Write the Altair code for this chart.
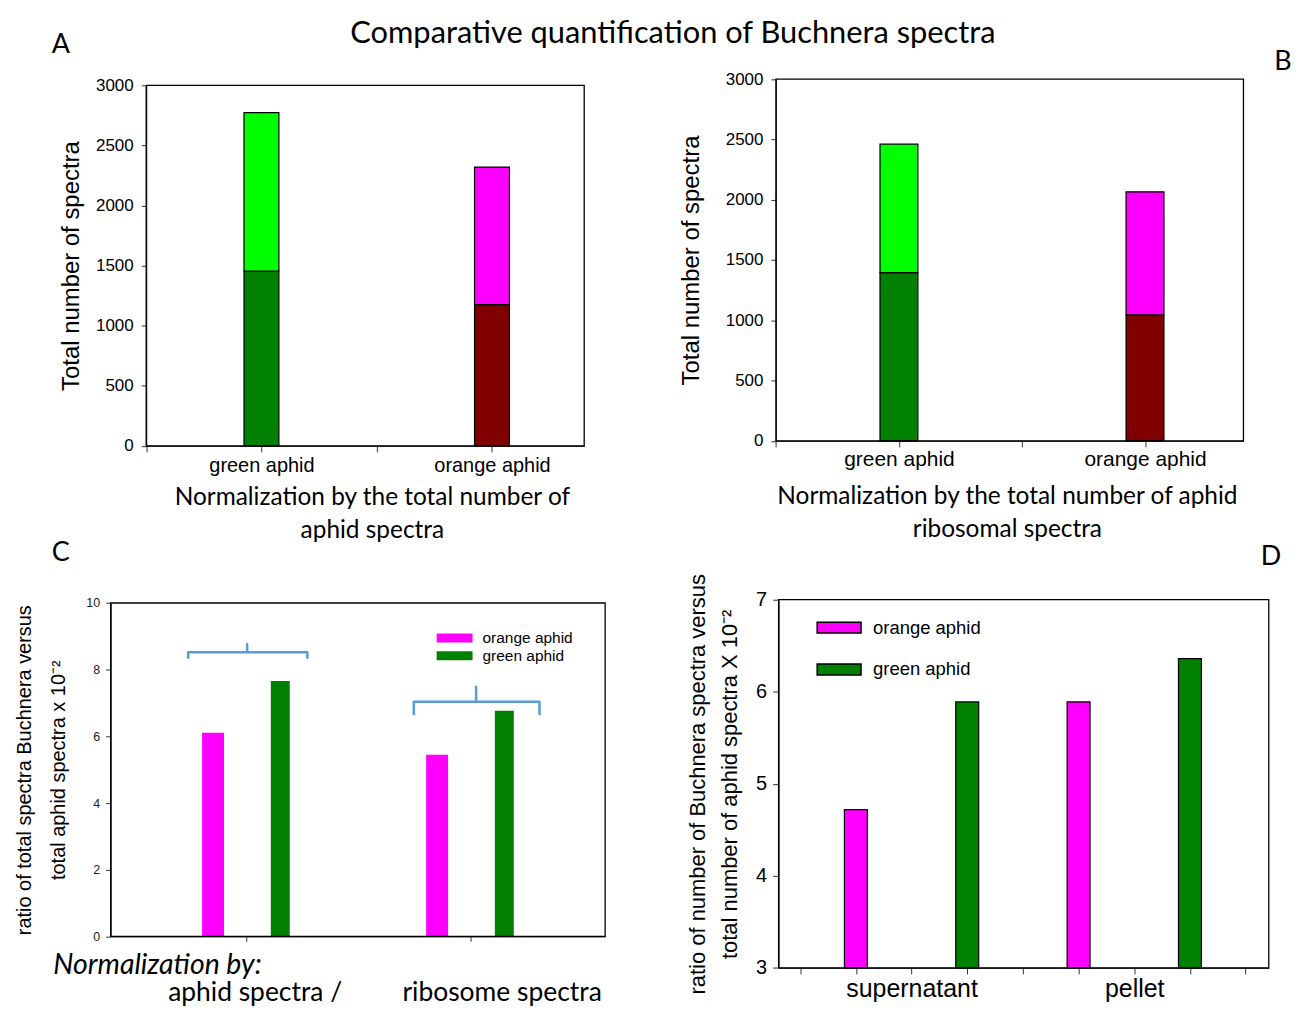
import altair as alt
import pandas as pd

# ---------------- data ----------------
TITLE = "Comparative quantification of Buchnera spectra"

AB_CATEGORIES = ["green aphid", "orange aphid"]
A_LOWER = [1455, 1175]
A_TOTAL = [2772, 2320]
B_LOWER = [1395, 1045]
B_TOTAL = [2460, 2065]
AB_YTICKS = [0, 500, 1000, 1500, 2000, 2500, 3000]

SERIES = ["orange aphid", "green aphid"]
C_GROUPS = ["aphid spectra /", "ribosome spectra"]
C_ORANGE = [6.11, 5.45]
C_GREEN = [7.66, 6.77]
C_YTICKS = [0, 2, 4, 6, 8, 10]

D_GROUPS = ["supernatant", "pellet"]
D_ORANGE = [4.72, 5.89]
D_GREEN = [5.89, 6.36]
D_YTICKS = [3, 4, 5, 6, 7]

# ---------------- layout / style ----------------
M = 8
W, H = 1287, 1000
ARIAL = "Liberation Sans, Arial, Helvetica, sans-serif"
CALIBRI = "Lato, Open Sans, sans-serif"
AXC = "#333333"

GREEN_DARK, GREEN_LIGHT, MAROON, MAGENTA = "#008000", "#00FF00", "#800000", "#FF00FF"
STACK_KEYS = [f"{c} {p}" for c in AB_CATEGORIES for p in ("lower", "upper")]
STACK_COLORS = [GREEN_DARK, GREEN_LIGHT, MAROON, MAGENTA]
SERIES_COLORS = [MAGENTA, GREEN_DARK]
BRACKET_COLOR = "#5B9BD5"
RECT_SYMBOL = "M-1,-0.25H1V0.25H-1Z"
WIDE_SYMBOL = "M-2,-0.5H2V0.5H-2Z"


def P(v):
    return v - M


def lin(domain, r0, r1):
    return alt.Scale(domain=domain, range=[P(r0), P(r1)], nice=False, zero=False, padding=0)


def frame_layer(x_dom, y_dom, xs, ys):
    df = pd.DataFrame([{"fx0": x_dom[0], "fx1": x_dom[1], "fy0": y_dom[0], "fy1": y_dom[1]}])
    return alt.Chart(df).mark_rect(fillOpacity=0, stroke="black", strokeWidth=1.3).encode(
        x=alt.X("fx0:Q", scale=xs, axis=None),
        x2="fx1:Q",
        y=alt.Y("fy0:Q", scale=ys, axis=None),
        y2="fy1:Q",
    )


def stacked_panel(lower, total, box, bar_px, label_size, label_pad, ytitle_right, xtitle, xtitle_x, xtitle_y):
    left, right, top, bottom = box
    x_dom = [0, 1.9]
    y_dom = [AB_YTICKS[0], AB_YTICKS[-1]]
    xs = lin(x_dom, left, right)
    ys = lin(y_dom, bottom, top)
    rows = []
    for i, cat in enumerate(AB_CATEGORIES):
        rows.append({"slot": i + 0.5, "key": f"{cat} lower", "lo": 0, "hi": lower[i]})
        rows.append({"slot": i + 0.5, "key": f"{cat} upper", "lo": lower[i], "hi": total[i]})
    label_expr = " : ".join(f"datum.value == {i + 0.5} ? '{c}'" for i, c in enumerate(AB_CATEGORIES)) + " : ''"
    bars = alt.Chart(pd.DataFrame(rows)).mark_bar(size=bar_px, stroke="black", strokeWidth=1.2).encode(
        x=alt.X("slot:Q", scale=xs, axis=alt.Axis(
            orient="bottom", offset=P(bottom) - H, values=[0, 0.5, 1, 1.5], labelExpr=label_expr,
            tickSize=6, tickColor=AXC, domainColor=AXC, domainWidth=1.2, grid=False,
            labelFont=ARIAL, labelFontSize=label_size, labelColor="black", labelPadding=label_pad,
            title=xtitle, titleFont=CALIBRI, titleFontSize=24.5, titleFontWeight="normal",
            titleColor="black", titleX=P(xtitle_x), titleY=xtitle_y, titleBaseline="top",
            titleLineHeight=33.5)),
        y=alt.Y("hi:Q", scale=ys, axis=alt.Axis(
            orient="left", offset=-P(left), values=AB_YTICKS, format="d",
            tickSize=5, tickColor=AXC, domainColor=AXC, domainWidth=1.2, grid=False,
            labelFont=ARIAL, labelFontSize=17, labelColor="black", labelPadding=8,
            title="Total number of spectra", titleFont=ARIAL, titleFontSize=24,
            titleFontWeight="normal", titleColor="black", titleX=ytitle_right - left)),
        y2="lo:Q",
        color=alt.Color("key:N", scale=alt.Scale(domain=STACK_KEYS, range=STACK_COLORS), legend=None),
    )
    return [bars, frame_layer(x_dom, y_dom, xs, ys)]


# ---------- Panel A / B ----------
layers_a = stacked_panel(A_LOWER, A_TOTAL, (146.6, 586, 84, 445.7), 35, 20, 4, 84,
                         ["Normalization by the total  number of", "aphid spectra"], 373, 39.5)
layers_b = stacked_panel(B_LOWER, B_TOTAL, (778.3, 1247.3, 77.7, 440.7), 38, 21, 2, 706,
                         ["Normalization by the total number  of aphid", "ribosomal spectra"], 1010, 43.5)

# ---------- Panel C ----------
C_BOX = (111, 607, 603.3, 937.7)
C_XDOM = [-0.607, 1.6]
C_YDOM = [C_YTICKS[0], C_YTICKS[-1]]
C_OFFSETS = [-0.15, 0.15]
C_WIDTHS = [22, 19]
c_label_expr = " : ".join(f"datum.value == {i} ? '{c}'" for i, c in enumerate(C_GROUPS)) + " : ''"
layers_c = []
for s, (ser, vals) in enumerate(zip(SERIES, [C_ORANGE, C_GREEN])):
    rows = [{"pos": g + C_OFFSETS[s], "series": ser, "value": vals[g], "base": C_YDOM[0]}
            for g in range(len(C_GROUPS))]
    first = s == 0
    xaxis = alt.Axis(
        orient="bottom", offset=P(C_BOX[3]) - H, values=[0, 1], labelExpr=c_label_expr,
        tickSize=5, tickColor=AXC, domainColor=AXC, domainWidth=1.2, grid=False,
        labelFont=CALIBRI, labelFontSize=26.5, labelColor="black", labelPadding=38.5, labelLimit=0,
        labelOffset={"condition": {"test": "datum.value == 1", "value": 31}, "value": 8},
        title="Normalization by:", titleFont=CALIBRI, titleFontSize=28.5, titleFontStyle="italic",
        titleFontWeight="normal", titleColor="black", titleAlign="left", titleX=P(53),
        titleY=14, titleBaseline="top") if first else None
    yaxis = alt.Axis(
        orient="left", offset=-P(C_BOX[0]), values=C_YTICKS, format="d",
        tickSize=5, tickColor=AXC, domainColor=AXC, domainWidth=1.2, grid=False,
        labelFont=ARIAL, labelFontSize=12.5, labelColor="#222", labelPadding=6,
        title=["ratio of total spectra Buchnera versus", "total aphid spectra  x 10\u207b\u00b2"],
        titleFont=ARIAL, titleFontSize=20, titleFontWeight="normal", titleColor="black",
        titleLineHeight=34, titleX=34.5 - C_BOX[0]) if first else None
    legend = alt.Legend(orient="none", legendX=P(447), legendY=P(629.3), title=None,
                        symbolType=WIDE_SYMBOL, symbolSize=18 * 18, symbolStrokeWidth=0,
                        labelFont=ARIAL, labelFontSize=15.5, labelColor="black",
                        labelOffset=19, rowPadding=0) if first else None
    layers_c.append(alt.Chart(pd.DataFrame(rows)).mark_bar(size=C_WIDTHS[s]).encode(
        x=alt.X("pos:Q", scale=lin(C_XDOM, C_BOX[0], C_BOX[1]), axis=xaxis),
        y=alt.Y("value:Q", scale=lin(C_YDOM, C_BOX[3], C_BOX[2]), axis=yaxis),
        y2="base:Q",
        color=alt.Color("series:N", scale=alt.Scale(domain=SERIES, range=SERIES_COLORS), legend=legend),
    ))

# bracket annotations (panel C data coordinates): left, centre, right, tip level, bar level, top level
BRACKETS = [(-0.261, 0.002, 0.271, 8.33, 8.52, 8.77), (0.746, 1.024, 1.307, 6.64, 7.04, 7.49)]
br_rows = []
for b, (xl, xc, xr, tip, lvl, topv) in enumerate(BRACKETS):
    pts = [(xl, tip), (xl, lvl), (xc, lvl), (xc, topv), (xc, lvl), (xr, lvl), (xr, tip)]
    for k, (bx, by) in enumerate(pts):
        br_rows.append({"bx": bx, "by": by, "bracket": b, "k": k})
layers_c.append(alt.Chart(pd.DataFrame(br_rows)).mark_line(
    color=BRACKET_COLOR, strokeWidth=2.5, strokeJoin="round").encode(
    x=alt.X("bx:Q", scale=lin(C_XDOM, C_BOX[0], C_BOX[1]), axis=None),
    y=alt.Y("by:Q", scale=lin(C_YDOM, C_BOX[3], C_BOX[2]), axis=None),
    detail="bracket:N",
    order="k:Q",
))
layers_c.append(frame_layer(C_XDOM, C_YDOM, lin(C_XDOM, C_BOX[0], C_BOX[1]), lin(C_YDOM, C_BOX[3], C_BOX[2])))

# ---------- Panel D ----------
D_BOX = (781, 1272.7, 600, 969.3)
D_XDOM = [-0.597, 1.604]
D_YDOM = [D_YTICKS[0], D_YTICKS[-1]]
D_OFFSETS = [-0.25, 0.25]
d_rows = []
for g, grp in enumerate(D_GROUPS):
    for s, (ser, vals) in enumerate(zip(SERIES, [D_ORANGE, D_GREEN])):
        d_rows.append({"pos": g + D_OFFSETS[s], "series": ser, "value": vals[g], "base": D_YDOM[0]})
d_label_expr = " : ".join(f"datum.value == {i} ? '{c}'" for i, c in enumerate(D_GROUPS)) + " : ''"
d_bars = alt.Chart(pd.DataFrame(d_rows)).mark_bar(size=23, stroke="black", strokeWidth=1.2).encode(
    x=alt.X("pos:Q", scale=lin(D_XDOM, D_BOX[0], D_BOX[1]), axis=alt.Axis(
        orient="bottom", offset=P(D_BOX[3]) - H,
        values=[-0.5, -0.25, 0, 0.25, 0.5, 0.75, 1, 1.25, 1.5], labelExpr=d_label_expr,
        tickSize=6, tickColor=AXC, domainColor=AXC, domainWidth=1.2, grid=False,
        labelFont=ARIAL, labelFontSize=25, labelColor="black", labelPadding=2.5, title=None)),
    y=alt.Y("value:Q", scale=lin(D_YDOM, D_BOX[3], D_BOX[2]), axis=alt.Axis(
        orient="left", offset=-P(D_BOX[0]), values=D_YTICKS, format="d",
        tickSize=6, tickColor=AXC, domainColor=AXC, domainWidth=1.2, grid=False,
        labelFont=ARIAL, labelFontSize=20, labelColor="black", labelPadding=6,
        title=["ratio of number of Buchnera spectra versus", "total number of aphid spectra  X 10\u207b\u00b2"],
        titleFont=ARIAL, titleFontSize=22, titleFontWeight="normal", titleColor="black",
        titleLineHeight=32, titleX=712 - D_BOX[0])),
    y2="base:Q",
    color=alt.Color("series:N", scale=alt.Scale(domain=SERIES, range=SERIES_COLORS),
                    legend=alt.Legend(orient="none", legendX=P(818.7), legendY=P(605), title=None,
                                      symbolType=RECT_SYMBOL, symbolSize=44 * 44,
                                      symbolStrokeColor="black", symbolStrokeWidth=1.5,
                                      labelFont=ARIAL, labelFontSize=18.5, labelColor="black",
                                      labelOffset=11, rowPadding=9)),
)
layers_d = [d_bars, frame_layer(D_XDOM, D_YDOM, lin(D_XDOM, D_BOX[0], D_BOX[1]), lin(D_YDOM, D_BOX[3], D_BOX[2]))]


# ---------- free text ----------
def text_mark(txt, x, y, size, align="center", baseline="alphabetic", font=CALIBRI):
    return alt.Chart(pd.DataFrame({"t": [txt]})).mark_text(
        font=font, fontSize=size, align=align, baseline=baseline, color="black").encode(
        text="t:N", x=alt.value(P(x)), y=alt.value(P(y)))


texts = [
    text_mark(TITLE, 675, 42, 30.9),
    text_mark("A", 61, 52, 27),
    text_mark("B", 1287, 69, 27),
    text_mark("C", 61, 561, 27),
    text_mark("D", 1275, 565, 27),
]

chart = alt.layer(*layers_a, *layers_b, *layers_c, *layers_d, *texts).resolve_scale(
    x="independent", y="independent", color="independent"
).resolve_axis(x="independent", y="independent").resolve_legend(
    color="independent"
).properties(
    width=W, height=H, autosize=alt.AutoSizeParams(type="none"), padding=0
).configure_view(stroke=None)

chart.save("out.html", embed_options={"renderer": "svg", "actions": False})
